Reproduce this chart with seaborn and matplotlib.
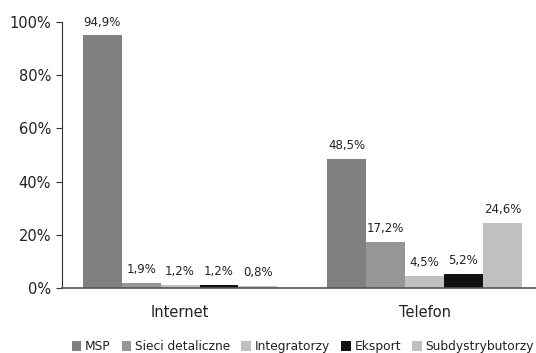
import matplotlib
matplotlib.use("Agg")
import matplotlib.pyplot as plt
import seaborn as sns
import pandas as pd

categories = ["Internet", "Telefon"]
segments = ["MSP", "Sieci detaliczne", "Integratorzy", "Eksport", "Subdystrybutorzy"]
msp = [94.9, 48.5]
sieci = [1.9, 17.2]
integratorzy = [1.2, 4.5]
eksport = [1.2, 5.2]
subdystrybutorzy = [0.8, 24.6]
colors = ["#808080", "#969696", "#c0c0c0", "#111111", "#c0c0c0"]

series = [msp, sieci, integratorzy, eksport, subdystrybutorzy]
rows = []
for seg, vals in zip(segments, series):
    for cat, v in zip(categories, vals):
        rows.append({"kanal": cat, "segment": seg, "val": v})
df = pd.DataFrame(rows)

sns.set_style("white")
plt.rcParams["font.family"] = ["DejaVu Sans"]

fig = plt.figure(figsize=(5.36, 3.53), dpi=100)
ax = fig.add_axes([0.1157, 0.184, 0.884, 0.754])
sns.barplot(data=df, x="kanal", y="val", hue="segment", order=categories,
            hue_order=segments, palette=colors, width=0.795, saturation=1,
            ax=ax, errorbar=None, linewidth=0, edgecolor="none")

for cont in ax.containers:
    ax.bar_label(cont, labels=[f"{b.get_height():.1f}%".replace(".", ",") for b in cont],
                 padding=5, fontsize=8.5, color="#222222")

ax.set_ylim(0, 100)
ax.set_xlim(-0.483, 1.455)
ax.set_yticks([0, 20, 40, 60, 80, 100])
ax.set_yticklabels([f"{t}%" for t in [0, 20, 40, 60, 80, 100]], fontsize=10.5, color="#222222")
ax.tick_params(axis="y", length=4, width=0.8, color="#333333", left=True, direction="out", pad=4)
ax.tick_params(axis="x", length=0, labelsize=10.5, pad=12, labelcolor="#222222")
ax.set_xlabel("")
ax.set_ylabel("")
for s in ["top", "right"]:
    ax.spines[s].set_visible(False)
ax.spines["left"].set_color("#333333")
ax.spines["left"].set_linewidth(0.8)
ax.spines["bottom"].set_color("#555555")
ax.spines["bottom"].set_linewidth(1.2)

leg = ax.legend(loc="center", bbox_to_anchor=(0.565, 0.018), bbox_transform=fig.transFigure,
                ncol=5, frameon=False, fontsize=8.8, handlelength=0.8, handleheight=0.8,
                handletextpad=0.3, columnspacing=0.9, borderaxespad=0, borderpad=0)
for t in leg.get_texts():
    t.set_color("#222222")

fig.savefig("out.png", dpi=100)
